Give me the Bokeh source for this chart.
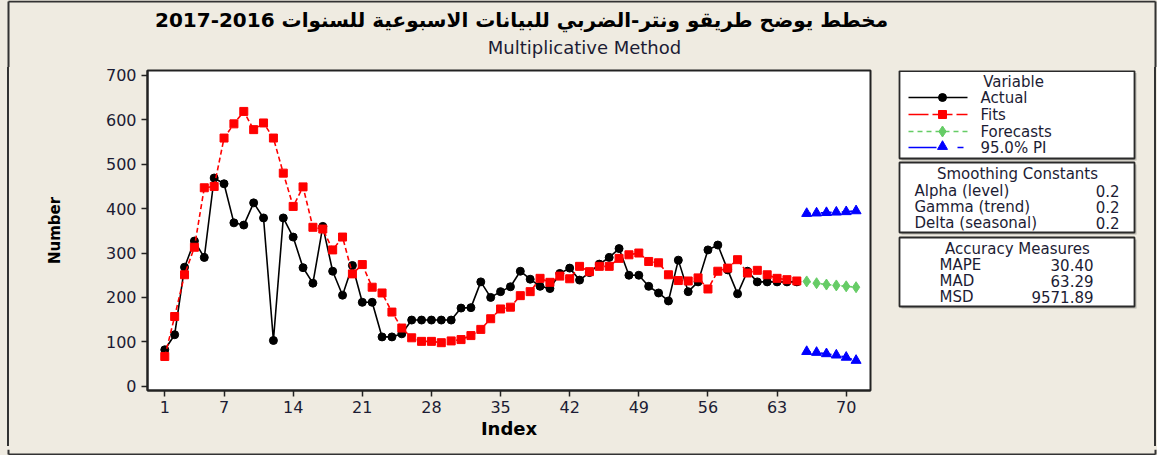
from bokeh.plotting import figure
from bokeh.models import Range1d, FixedTicker
from bokeh.layouts import row, column
from bokeh.embed import file_html
from bokeh.resources import INLINE
from bokeh.core.properties import value

# ---------------- data ----------------
index_fit = list(range(1, 66))
actual = [82, 116, 268, 327, 290, 469, 456, 368, 363, 413,
          379, 103, 379, 336, 267, 232, 360, 259, 205, 272,
          189, 189, 111, 111, 118, 149, 149, 149, 149, 149,
          176, 177, 235, 200, 213, 224, 259, 241, 225, 220,
          254, 266, 239, 256, 275, 290, 310, 250, 250, 225,
          210, 192, 284, 213, 235, 307, 318, 262, 208, 259,
          235, 235, 235, 235, 235]
fits = [67, 157, 251, 313, 447, 450, 559, 591, 619, 578,
        593, 559, 480, 405, 449, 358, 354, 307, 336, 253,
        274, 223, 210, 167, 131, 109, 101, 101, 98, 102,
        105, 114, 128, 152, 174, 178, 204, 213, 243, 234,
        248, 242, 270, 258, 270, 270, 288, 296, 300, 281,
        278, 251, 238, 237, 244, 219, 259, 266, 285, 255,
        261, 251, 243, 240, 237]
index_fc = list(range(66, 72))
forecasts = [236, 232, 229, 227, 225, 223]
pi_upper = [389, 390, 391, 392, 393, 395]
pi_lower = [78, 76, 73, 70, 65, 58]

x_ticks = [1, 7, 14, 21, 28, 35, 42, 49, 56, 63, 70]
y_ticks = [0, 100, 200, 300, 400, 500, 600, 700]

title_ar = "2017-2016 مخطط يوضح طريقو ونتر-الضربي للبيانات الاسبوعية للسنوات"
subtitle = "Multiplicative Method"
x_label = "Index"
y_label = "Number"
legend_title = "Variable"
legend_labels = ["Actual", "Fits", "Forecasts", "95.0% PI"]
smoothing_title = "Smoothing Constants"
smoothing_names = ["Alpha (level)", "Gamma (trend)", "Delta (seasonal)"]
smoothing_values = ["0.2", "0.2", "0.2"]
accuracy_title = "Accuracy Measures"
accuracy_names = ["MAPE", "MAD", "MSD"]
accuracy_values = ["30.40", "63.29", "9571.89"]

# ---------------- style ----------------
BG = "#EFEBE1"
FONT = "DejaVu Sans"
TXT = "#1c1c34"
EDGE = "#333333"
C_ACT = "black"
C_FIT = "#FF0000"
C_FC = "#66CC66"
C_PI = "#0000FF"
BGSTYLE = {"background-color": BG}


def pixel_canvas(w, h, x0, x1, y_top, y_bot, fill=BG, bt=0, bb=0):
    f = figure(width=w, height=h, output_backend="svg", toolbar_location=None,
               x_range=Range1d(x0, x1), y_range=Range1d(y_bot, y_top),
               x_axis_location=None, y_axis_location=None, title_location=None,
               min_border=0, min_border_left=0, min_border_right=0,
               min_border_top=bt, min_border_bottom=bb,
               background_fill_color=fill, border_fill_color=fill,
               styles={"background-color": fill})
    f.outline_line_color = None
    f.grid.visible = False
    return f


# ---------------- top (titles) ----------------
top = pixel_canvas(1157, 67, 0, 1157, 0, 67)
top.line([8, 1155], [1, 1], line_color=EDGE, line_width=2)
top.line([8, 8], [1, 67], line_color=EDGE, line_width=2)
top.line([1155, 1155], [1, 67], line_color=EDGE, line_width=2)
top.text(x=[521], y=[19], text=[title_ar], text_align="center", text_baseline="middle",
         text_font=value(FONT), text_font_style="bold", text_font_size="20px",
         text_color="black")
top.text(x=[584], y=[47], text=[subtitle], text_align="center", text_baseline="middle",
         text_font=value(FONT), text_font_size="18px", text_color=TXT)

# ---------------- outer border strips (solid fills) ----------------
left_pad = pixel_canvas(7, 379, 0, 7, 67, 446)
left_bar = pixel_canvas(2, 379, 7, 9, 67, 446, fill=EDGE)

# ---------------- main plot ----------------
p = figure(width=881, height=379, output_backend="svg", toolbar_location=None,
           title_location=None,
           x_range=Range1d(-0.75, 72.46), y_range=Range1d(-9.7, 711.2),
           min_border_left=138, min_border_right=20, min_border_top=3, min_border_bottom=56,
           background_fill_color="white", border_fill_color=BG, styles=BGSTYLE)
p.outline_line_color = "#222222"
p.outline_line_width = 2
p.xgrid.visible = False
p.ygrid.visible = False

p.line(index_fit, actual, line_color=C_ACT, line_width=1.6)
p.scatter(index_fit, actual, marker="circle", size=8, color=C_ACT)
p.line(index_fit, fits, line_color=C_FIT, line_width=1.6, line_dash="5 3")
p.scatter(index_fit, fits, marker="square", size=8, color=C_FIT)
p.line(index_fc, forecasts, line_color=C_FC, line_width=1.6, line_dash="4 3")
p.scatter(index_fc, forecasts, marker="diamond", size=11, color=C_FC)
p.line(index_fc, pi_upper, line_color=C_PI, line_width=1.6, line_dash="4 3")
p.scatter(index_fc, pi_upper, marker="triangle", size=10, color=C_PI)
p.line(index_fc, pi_lower, line_color=C_PI, line_width=1.6, line_dash="4 3")
p.scatter(index_fc, pi_lower, marker="triangle", size=10, color=C_PI)

p.xaxis.ticker = FixedTicker(ticks=x_ticks)
p.yaxis.ticker = FixedTicker(ticks=y_ticks)
p.xaxis.axis_label = x_label
p.yaxis.axis_label = y_label
for ax in (p.xaxis, p.yaxis):
    ax.axis_label_text_font = FONT
    ax.axis_label_text_font_style = "bold"
    ax.axis_label_text_color = "black"
    ax.major_label_text_font = FONT
    ax.major_label_text_font_size = "16px"
    ax.major_label_text_color = TXT
    ax.major_tick_out = 6
    ax.major_tick_in = 0
    ax.minor_tick_out = 0
    ax.minor_tick_in = 0
    ax.major_tick_line_width = 1.5
    ax.major_tick_line_color = "#222222"
    ax.axis_line_width = 2
    ax.axis_line_color = "#222222"
p.xaxis.axis_label_text_font_size = "18px"
p.yaxis.axis_label_text_font_size = "15px"
p.xaxis.major_label_standoff = 4
p.xaxis.axis_label_standoff = 2
p.yaxis.major_label_standoff = 5
p.yaxis.axis_label_standoff = 39

# ---------------- right panel (legend & stats) ----------------
# its frame is aligned with the main frame (screen y 70..390)
rp = pixel_canvas(264, 379, 890, 1154, 70, 390, bt=3, bb=56)

box_l, box_r = 899, 1134
boxes_top = [70.5, 162, 237]
boxes_bot = [158, 232, 306]
rp.quad(left=[box_l + 2] * 3, right=[box_r + 2] * 3, top=[t + 2 for t in boxes_top],
        bottom=[b + 2 for b in boxes_bot], fill_color="#B8B6AE", line_color=None)
rp.quad(left=[box_l] * 3, right=[box_r] * 3, top=boxes_top, bottom=boxes_bot,
        fill_color="white", line_color="#2a2a2a", line_width=1.8)

FS = "15px"
rp.text(x=[1013], y=[81], text=[legend_title], text_align="center", text_baseline="middle",
        text_font=value(FONT), text_font_size=FS, text_color=TXT)
leg_y = [97, 114, 131, 147]
rp.text(x=[980] * 4, y=leg_y, text=legend_labels, text_align="left", text_baseline="middle",
        text_font=value(FONT), text_font_size=FS, text_color=TXT)
rp.line([908, 967], [leg_y[0]] * 2, line_color=C_ACT, line_width=1.6)
rp.scatter([942], [leg_y[0]], marker="circle", size=8, color=C_ACT)
rp.line([908, 967], [leg_y[1]] * 2, line_color=C_FIT, line_width=1.6, line_dash="20 4")
rp.scatter([942], [leg_y[1]], marker="square", size=8, color=C_FIT)
rp.line([908, 967], [leg_y[2]] * 2, line_color=C_FC, line_width=1.6, line_dash="5 4")
rp.scatter([942], [leg_y[2]], marker="diamond", size=11, color=C_FC)
rp.line([908, 936], [leg_y[3]] * 2, line_color=C_PI, line_width=1.6)
rp.line([957, 963], [leg_y[3]] * 2, line_color=C_PI, line_width=1.6)
rp.scatter([942], [leg_y[3] - 1], marker="triangle", size=10, color=C_PI)

rp.text(x=[1017], y=[173], text=[smoothing_title], text_align="center", text_baseline="middle",
        text_font=value(FONT), text_font_size=FS, text_color=TXT)
sm_y = [190, 206, 222]
rp.text(x=[914] * 3, y=sm_y, text=smoothing_names, text_align="left", text_baseline="middle",
        text_font=value(FONT), text_font_size=FS, text_color=TXT)
rp.text(x=[1119] * 3, y=sm_y, text=smoothing_values, text_align="right", text_baseline="middle",
        text_font=value(FONT), text_font_size=FS, text_color=TXT)

rp.text(x=[1017], y=[248], text=[accuracy_title], text_align="center", text_baseline="middle",
        text_font=value(FONT), text_font_size=FS, text_color=TXT)
ac_y = [264, 280, 296]
rp.text(x=[939] * 3, y=ac_y, text=accuracy_names, text_align="left", text_baseline="middle",
        text_font=value(FONT), text_font_size=FS, text_color=TXT)
rp.text(x=[1093] * 3, y=ac_y, text=accuracy_values, text_align="right", text_baseline="middle",
        text_font=value(FONT), text_font_size=FS, text_color=TXT)

right_bar = pixel_canvas(2, 379, 1154, 1156, 67, 446, fill=EDGE)
right_pad = pixel_canvas(1, 379, 1156, 1157, 67, 446)

# ---------------- bottom strip (outer border) ----------------
bot = pixel_canvas(1157, 9, 0, 1157, 446, 455)
bot.line([8, 1155], [451, 451], line_color=EDGE, line_width=2)
bot.line([8, 8], [446, 451], line_color=EDGE, line_width=2)
bot.line([1155, 1155], [446, 451], line_color=EDGE, line_width=2)

middle = row(left_pad, left_bar, p, rp, right_bar, right_pad, spacing=0, styles=BGSTYLE)
layout = column(top, middle, bot, spacing=0, styles=BGSTYLE)
open("out.html", "w").write(file_html(layout, INLINE))
